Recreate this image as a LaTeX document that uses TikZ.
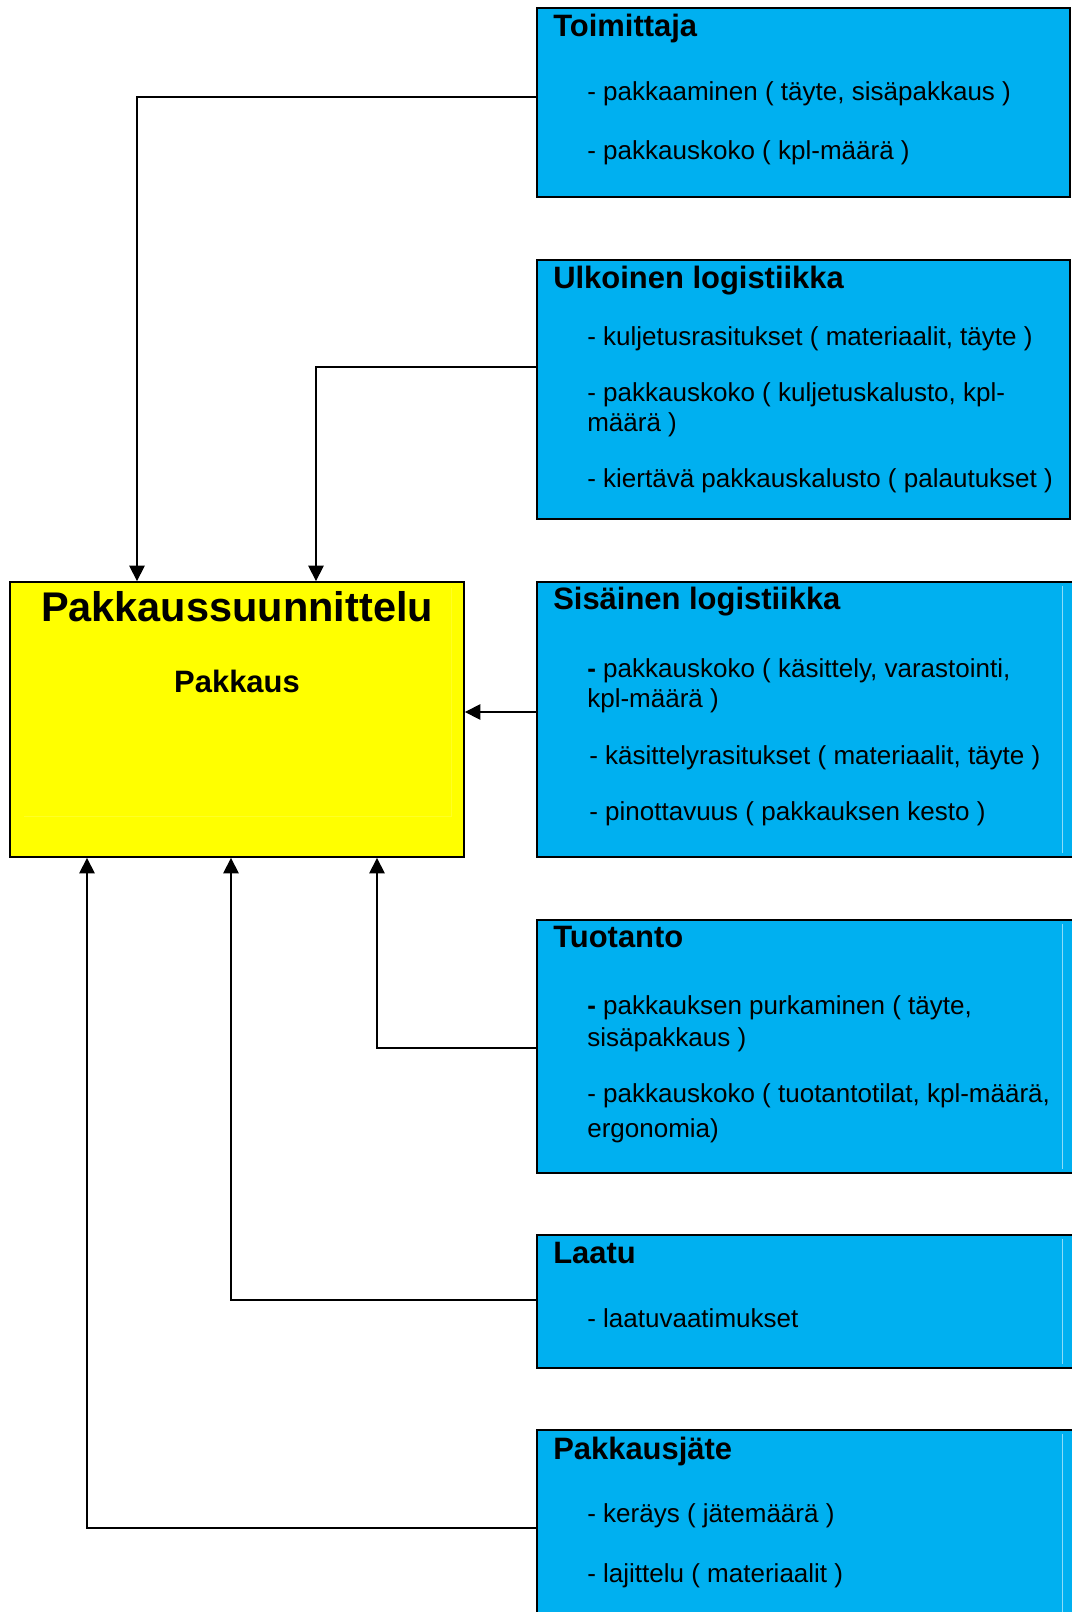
\documentclass[tikz,border=0pt]{standalone}
\usepackage{fontspec}
\setmainfont{Liberation Sans}
\usetikzlibrary{arrows.meta, fit, calc}
\definecolor{boxblue}{HTML}{00B0F0}
\definecolor{boxyellow}{HTML}{FFFF00}

\begin{document}
\begin{tikzpicture}[x=0.025cm, y=-0.025cm, box/.style={draw, line width=1.3pt, inner sep=0pt}, area/.style={box, fill=boxblue}, head/.style={anchor=base west, inner sep=0pt, font=\fontsize{22}{26}\selectfont\bfseries}, item/.style={anchor=base west, inner sep=0pt, font=\fontsize{18.5}{22}\selectfont}, arr/.style={-{Triangle[length=11pt, width=11pt]}, line width=1pt}, glint/.style={line width=0.6pt}]
\clip (0,0) rectangle (1072,1612);
\node[box, fill=boxyellow, fit={(10,582) (464,857)}] (pak) {};
\draw[glint, boxyellow!85!white] (24,816) -- (451,816) -- (451,588);
\node[anchor=base, font=\fontsize{29.5}{34}\selectfont\bfseries] (pak-h) at (237,621) {Pakkaussuunnittelu};
\node[anchor=base, font=\fontsize{22}{26}\selectfont\bfseries] (pak-s) at (237,692) {Pakkaus};
\node[area, fit={(537,8) (1070,197)}] (toim) {};
\node[area, fit={(537,260) (1070,519)}] (ulk) {};
\node[area, fit={(537,582) (1090,857)}] (sis) {};
\node[area, fit={(537,920) (1090,1173)}] (tuo) {};
\node[area, fit={(537,1235) (1090,1368)}] (laa) {};
\node[area, fit={(537,1430) (1090,1640)}] (jat) {};
\foreach \a/\b in {582/857, 920/1173, 1235/1368, 1430/1640}{\draw[glint, boxblue!45!white] (1062,\a+4) -- (1062,\b-4);}
\node[head] (toim-h) at (553,36) {Toimittaja};
\node[item] (toim-1) at (587,100) {- pakkaaminen ( täyte, sisäpakkaus )};
\node[item] (toim-2) at (587,159) {- pakkauskoko ( kpl-määrä )};
\node[head] (ulk-h) at (553,288) {Ulkoinen logistiikka};
\foreach \y/\txt [count=\i] in {345/{- kuljetusrasitukset ( materiaalit, täyte )}, 401/{- pakkauskoko ( kuljetuskalusto, kpl-}, 431/{määrä )}, 487/{- kiertävä pakkauskalusto ( palautukset )}}{\node[item] (ulk-\i) at (587,\y) {\txt};}
\node[head] (sis-h) at (553,609) {Sisäinen logistiikka};
\foreach \x/\y/\txt [count=\i] in {587/677/{{\bfseries -} pakkauskoko ( käsittely, varastointi,}, 587/707/{kpl-määrä )}, 589/764/{- käsittelyrasitukset ( materiaalit, täyte )}, 589/820/{- pinottavuus ( pakkauksen kesto )}}{\node[item] (sis-\i) at (\x,\y) {\txt};}
\node[head] (tuo-h) at (553,947) {Tuotanto};
\foreach \y/\txt [count=\i] in {1014/{{\bfseries -} pakkauksen purkaminen ( täyte,}, 1046/{sisäpakkaus )}, 1102/{- pakkauskoko ( tuotantotilat, kpl-määrä,}, 1137/{ergonomia)}}{\node[item] (tuo-\i) at (587,\y) {\txt};}
\node[head] (laa-h) at (553,1263) {Laatu};
\node[item] (laa-1) at (587,1327) {- laatuvaatimukset};
\node[head] (jat-h) at (553,1459) {Pakkausjäte};
\node[item] (jat-1) at (587,1522) {- keräys ( jätemäärä )};
\node[item] (jat-2) at (587,1582) {- lajittelu ( materiaalit )};
\draw[arr] ($(toim.west)+(0,-5.5)$) -| ($(pak.north)+(-100,0)$);
\draw[arr] ($(ulk.west)+(0,-22.5)$) -| ($(pak.north)+(79,0)$);
\draw[arr] ($(sis.west)+(0,-7.5)$) -- ($(pak.east)+(0,-7.5)$);
\draw[arr] ($(tuo.west)+(0,1.5)$) -| ($(pak.south)+(140,0)$);
\draw[arr] ($(laa.west)+(0,-1.5)$) -| ($(pak.south)+(-6,0)$);
\draw[arr] ($(jat.west)+(0,-7)$) -| ($(pak.south)+(-150,0)$);
\end{tikzpicture}
\end{document}
